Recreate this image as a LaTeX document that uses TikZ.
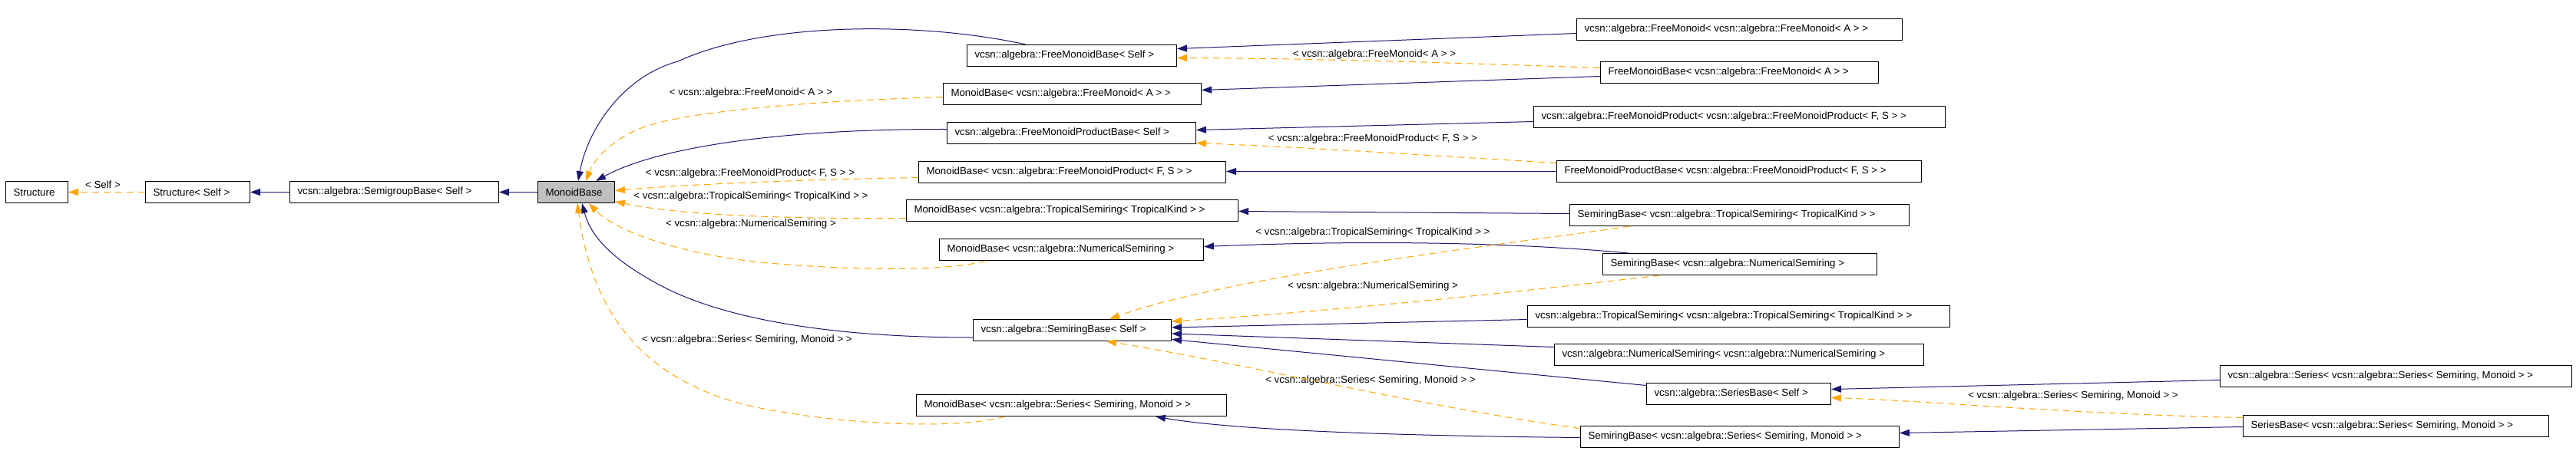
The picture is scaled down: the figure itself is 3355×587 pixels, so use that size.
\documentclass[tikz,border=0pt]{standalone}
\usepackage{fontspec}
\setmainfont{Liberation Sans}
\usetikzlibrary{calc,arrows.meta}
\definecolor{navy}{HTML}{191970}
\definecolor{dorange}{HTML}{FFA500}
\definecolor{boxgray}{HTML}{BFBFBF}
\newcommand\bt[2]{\makebox[#1pt][l]{#2}}
\begin{document}
\begin{tikzpicture}[x=1pt,y=-1pt,
  box/.style={draw=black,line width=1pt,anchor=north west,minimum height=28pt,inner xsep=10pt,inner ysep=0pt,font=\fontsize{13.3pt}{16pt}\selectfont},
  lbl/.style={inner sep=0pt,font=\fontsize{13.3pt}{16pt}\selectfont},
  inh/.style={draw=navy,line width=1pt,-{Triangle[length=13pt,width=9pt]}},
  tpl/.style={draw=dorange,line width=1pt,dash pattern=on 9pt off 6pt,-{Triangle[length=13pt,width=9pt]}}]
\useasboundingbox (0,0) rectangle (3355,587);
% boxes
\node[box] (Structure) at (7,236) {\bt{61}{Structure}};
\node[box] (StructureSelf) at (189,236) {\bt{116}{Structure< Self >}};
\node[box] (Semigroup) at (377,236) {\bt{252}{vcsn::algebra::SemigroupBase< Self >}};
\node[box,fill=boxgray] (MonoidBase) at (700,236) {\bt{80}{MonoidBase}};
\node[box] (FMBaseSelf) at (1259,58) {\bt{253}{vcsn::algebra::FreeMonoidBase< Self >}};
\node[box] (MBFM) at (1228,108) {\bt{316}{MonoidBase< vcsn::algebra::FreeMonoid< A > >}};
\node[box] (FMPBaseSelf) at (1233,159) {\bt{304}{vcsn::algebra::FreeMonoidProductBase< Self >}};
\node[box] (MBFMP) at (1196,210) {\bt{380}{MonoidBase< vcsn::algebra::FreeMonoidProduct< F, S > >}};
\node[box] (MBTrop) at (1180,260) {\bt{412}{MonoidBase< vcsn::algebra::TropicalSemiring< TropicalKind > >}};
\node[box] (MBNum) at (1223,311) {\bt{324}{MonoidBase< vcsn::algebra::NumericalSemiring >}};
\node[box] (SRBSelf) at (1267,416) {\bt{238}{vcsn::algebra::SemiringBase< Self >}};
\node[box] (MBSeries) at (1193,514) {\bt{384}{MonoidBase< vcsn::algebra::Series< Semiring, Monoid > >}};
\node[box] (FMFM) at (2053,24) {\bt{404}{vcsn::algebra::FreeMonoid< vcsn::algebra::FreeMonoid< A > >}};
\node[box] (FMBFM) at (2084,80) {\bt{342}{FreeMonoidBase< vcsn::algebra::FreeMonoid< A > >}};
\node[box] (FMPFMP) at (1997,138) {\bt{516}{vcsn::algebra::FreeMonoidProduct< vcsn::algebra::FreeMonoidProduct< F, S > >}};
\node[box] (FMPBFMP) at (2027,209) {\bt{455}{FreeMonoidProductBase< vcsn::algebra::FreeMonoidProduct< F, S > >}};
\node[box] (SRBTrop) at (2044,266) {\bt{422}{SemiringBase< vcsn::algebra::TropicalSemiring< TropicalKind > >}};
\node[box] (SRBNum) at (2087,330) {\bt{337}{SemiringBase< vcsn::algebra::NumericalSemiring >}};
\node[box] (TSTS) at (1989,398) {\bt{530}{vcsn::algebra::TropicalSemiring< vcsn::algebra::TropicalSemiring< TropicalKind > >}};
\node[box] (NSNS) at (2024,448) {\bt{461}{vcsn::algebra::NumericalSemiring< vcsn::algebra::NumericalSemiring >}};
\node[box] (SeriesBaseSelf) at (2144,499) {\bt{220}{vcsn::algebra::SeriesBase< Self >}};
\node[box] (SRBSeries) at (2058,555) {\bt{395}{SemiringBase< vcsn::algebra::Series< Semiring, Monoid > >}};
\node[box] (SeriesSeries) at (2891,476) {\bt{438}{vcsn::algebra::Series< vcsn::algebra::Series< Semiring, Monoid > >}};
\node[box] (SeriesBaseSeries) at (2921,541) {\bt{378}{SeriesBase< vcsn::algebra::Series< Semiring, Monoid > >}};
% labels
\node[lbl] (l1) at (134,241) {< Self >};
\node[lbl] (l2) at (978,121) {< vcsn::algebra::FreeMonoid< A > >};
\node[lbl] (l3) at (977,226) {< vcsn::algebra::FreeMonoidProduct< F, S > >};
\node[lbl] (l4) at (978,256) {< vcsn::algebra::TropicalSemiring< TropicalKind > >};
\node[lbl] (l5) at (978,292) {< vcsn::algebra::NumericalSemiring >};
\node[lbl] (l6) at (973,443) {< vcsn::algebra::Series< Semiring, Monoid > >};
\node[lbl] (l7) at (1790,71) {< vcsn::algebra::FreeMonoid< A > >};
\node[lbl] (l8) at (1788,181) {< vcsn::algebra::FreeMonoidProduct< F, S > >};
\node[lbl] (l9) at (1788,303) {< vcsn::algebra::TropicalSemiring< TropicalKind > >};
\node[lbl] (l10) at (1788,373) {< vcsn::algebra::NumericalSemiring >};
\node[lbl] (l11) at (1785,496) {< vcsn::algebra::Series< Semiring, Monoid > >};
\node[lbl] (l12) at (2700,516) {< vcsn::algebra::Series< Semiring, Monoid > >};
% main row
\draw[tpl] (StructureSelf.west) -- (Structure.east);
\draw[inh] (Semigroup.west) -- (StructureSelf.east);
\draw[inh] (MonoidBase.west) -- (Semigroup.east);
% into MonoidBase
\draw[inh] ($(FMBaseSelf.north west)+(77,0)$) .. controls (1200,28) and (995,28) .. (883,80) .. controls (810,100) and (765,170) .. ($(MonoidBase.north west)+(53,0)$);
\draw[tpl] ($(MBFM.west)+(0,4)$) .. controls (1050,132) and (900,145) .. (840,165) .. controls (800,180) and (775,205) .. ($(MonoidBase.north west)+(63,0)$);
\draw[inh] ($(FMPBaseSelf.west)+(0,-5)$) .. controls (1000,168) and (850,195) .. ($(MonoidBase.north west)+(76,0)$);
\draw[tpl] ($(MBFMP.west)+(0,7)$) .. controls (1050,234) and (900,240) .. ($(MonoidBase.east)+(0,-2)$);
\draw[tpl] ($(MBTrop.west)+(0,10)$) .. controls (1000,286) and (870,278) .. ($(MonoidBase.east)+(0,12)$);
\draw[tpl] ($(MBNum.south west)+(61,0)$) .. controls (1230,355) and (1100,352) .. (990,342) .. controls (880,330) and (800,300) .. ($(MonoidBase.south west)+(67,0)$);
\draw[inh] ($(SRBSelf.west)+(0,9.5)$) .. controls (1100,440) and (950,420) .. (860,372) .. controls (800,340) and (770,310) .. ($(MonoidBase.south west)+(58,0)$);
\draw[tpl] ($(MBSeries.south west)+(116,0)$) .. controls (1250,560) and (1100,555) .. (980,530) .. controls (830,495) and (770,400) .. ($(MonoidBase.south west)+(52,0)$);
% upper right
\draw[inh] ($(FMFM.west)+(0,5)$) -- ($(FMBaseSelf.east)+(0,-9)$);
\draw[tpl] ($(FMBFM.west)+(0,-6)$) .. controls (1900,82) and (1700,76) .. ($(FMBaseSelf.east)+(0,3)$);
\draw[inh] ($(FMBFM.west)+(0,5)$) -- ($(MBFM.east)+(0,-5)$);
\draw[inh] ($(FMPFMP.west)+(0,6)$) -- ($(FMPBaseSelf.east)+(0,-4)$);
\draw[tpl] ($(FMPBFMP.west)+(0,-11)$) .. controls (1850,202) and (1700,192) .. ($(FMPBaseSelf.east)+(0,13)$);
\draw[inh] (FMPBFMP.west) -- ($(MBFMP.east)+(0,-1)$);
\draw[inh] ($(SRBTrop.west)+(0,-2)$) -- ($(MBTrop.east)+(0,1)$);
\draw[inh] ($(SRBNum.north west)+(34,0)$) .. controls (1950,314) and (1750,314) .. ($(MBNum.east)+(0,-4)$);
% into SemiringBase<Self>
\draw[tpl] ($(SRBTrop.south west)+(79,0)$) .. controls (1950,320) and (1600,360) .. ($(SRBSelf.north west)+(178,0)$);
\draw[tpl] ($(SRBNum.south west)+(75,0)$) .. controls (2000,378) and (1750,405) .. ($(SRBSelf.east)+(0,-11.5)$);
\draw[inh] ($(TSTS.west)+(0,4)$) -- ($(SRBSelf.east)+(0,-3.5)$);
\draw[inh] ($(NSNS.west)+(0,-10)$) -- ($(SRBSelf.east)+(0,4.5)$);
\draw[inh] ($(SeriesBaseSelf.west)+(0,-11)$) -- ($(SRBSelf.east)+(0,12)$);
\draw[tpl] ($(SRBSeries.west)+(0,-11)$) .. controls (1850,530) and (1600,470) .. ($(SRBSelf.south west)+(174,0)$);
\draw[inh] ($(SRBSeries.west)+(0,1)$) .. controls (1800,568) and (1600,560) .. ($(MBSeries.south west)+(312,0)$);
% far right
\draw[inh] ($(SeriesSeries.west)+(0,5)$) -- ($(SeriesBaseSelf.east)+(0,-6)$);
\draw[tpl] ($(SeriesBaseSeries.west)+(0,-11)$) .. controls (2700,540) and (2500,522) .. ($(SeriesBaseSelf.east)+(0,5)$);
\draw[inh] ($(SeriesBaseSeries.west)+(0,1)$) -- ($(SRBSeries.east)+(0,-5)$);
\end{tikzpicture}
\end{document}
